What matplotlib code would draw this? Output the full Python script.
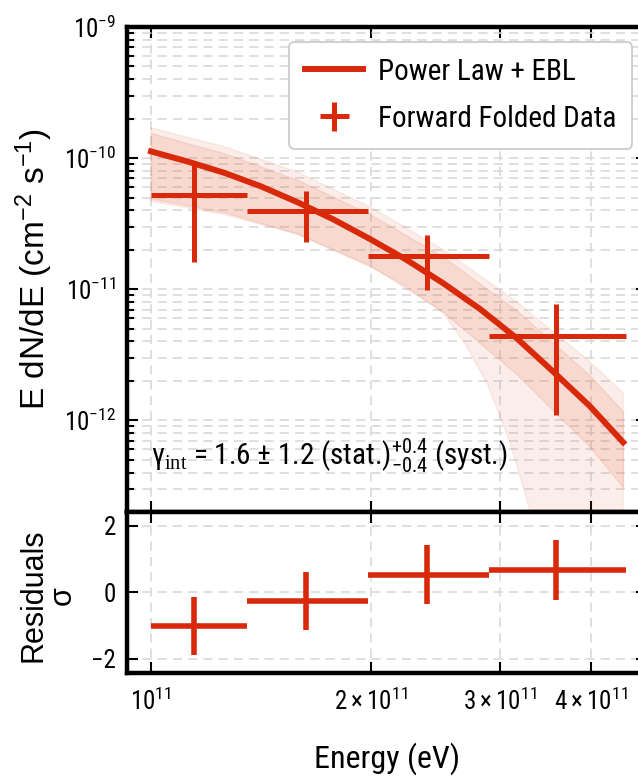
import os
import numpy as np
import matplotlib
matplotlib.use('Agg')
import matplotlib.pyplot as plt
from matplotlib import font_manager
from matplotlib.ticker import (FixedLocator, FixedFormatter, LogLocator,
                               NullLocator, NullFormatter, LogFormatterMathtext)

# narrow sans for the horizontal texts, if one is around
fm = font_manager.fontManager
names = {f.name for f in fm.ttflist}
narrow = None
for cand in ['Liberation Sans Narrow', 'Arial Narrow', 'Roboto Condensed']:
    if cand in names:
        narrow = cand
        break
if narrow is None:
    for f in fm.ttflist:
        if os.path.basename(f.fname) == 'NotoSans-Condensed.ttf':
            fm.ttflist.append(font_manager.FontEntry(
                fname=f.fname, name='Noto Sans Cond', style='normal',
                variant='normal', weight=400, stretch='normal', size='scalable'))
            narrow = 'Noto Sans Cond'
            break
if narrow is None:
    narrow = 'Liberation Sans'

plt.rcParams['font.family'] = [narrow, 'Liberation Sans', 'DejaVu Sans']
plt.rcParams['mathtext.fontset'] = 'custom'
plt.rcParams['mathtext.rm'] = 'Liberation Serif'
plt.rcParams['mathtext.it'] = 'Liberation Sans:italic'
plt.rcParams['mathtext.bf'] = 'Liberation Sans:bold'
plt.rcParams['mathtext.default'] = 'regular'

red = '#d9290b'
band_col = '#e2643e'

# forward folded data (energy bins in eV)
bin_lo = [1.0e11, 1.354e11, 1.98e11, 2.90e11]
bin_hi = [1.354e11, 1.98e11, 2.90e11, 4.46e11]
bin_ctr = [1.145e11, 1.628e11, 2.385e11, 3.58e11]
flux = [5.26e-11, 3.97e-11, 1.78e-11, 4.39e-12]
flux_err = [3.66e-11, 1.68e-11, 8.0e-12, 3.3e-12]
resid = [-1.01, -0.26, 0.53, 0.68]
resid_err = [0.88, 0.88, 0.89, 0.90]

# power law + EBL model
E_model = [1.0e11, 1.122e11, 1.259e11, 1.413e11, 1.585e11, 1.778e11, 1.995e11,
           2.239e11, 2.512e11, 2.818e11, 3.162e11, 3.548e11, 3.981e11, 4.426e11]
F_model = [1.125e-10, 9.42e-11, 7.73e-11, 6.10e-11, 4.62e-11, 3.40e-11, 2.41e-11,
           1.67e-11, 1.109e-11, 7.08e-12, 4.25e-12, 2.36e-12, 1.29e-12, 6.8e-13]

# uncertainty bands
E_band = [1.0e11, 1.259e11, 1.585e11, 1.995e11, 2.512e11, 3.162e11, 3.981e11, 4.426e11]
inner_up = [1.55e-10, 1.09e-10, 6.84e-11, 3.73e-11, 1.76e-11, 6.92e-12, 2.21e-12, 1.17e-12]
inner_lo = [4.91e-11, 3.87e-11, 2.66e-11, 1.52e-11, 6.68e-12, 2.26e-12, 6.31e-13, 3.09e-13]
outer_up = [1.70e-10, 1.225e-10, 7.85e-11, 4.24e-11, 2.0e-11, 8.04e-12, 2.82e-12, 1.62e-12]
E_outer_lo = [1.0e11, 1.259e11, 1.585e11, 1.995e11, 2.239e11, 2.512e11, 2.692e11,
              2.884e11, 3.090e11, 3.273e11, 3.548e11, 4.426e11]
outer_lo = [4.68e-11, 3.72e-11, 2.63e-11, 1.48e-11, 1.05e-11, 6.6e-12, 3.8e-12,
            1.9e-12, 7.1e-13, 2.4e-13, 5e-14, 1e-15]

x_ticks = [1e11, 2e11, 3e11, 4e11]
x_ticklabels = [r'$\mathdefault{10^{11}}$', r'$\mathdefault{2\times10^{11}}$',
                r'$\mathdefault{3\times10^{11}}$', r'$\mathdefault{4\times10^{11}}$']

fig = plt.figure(figsize=(6.38, 7.76), dpi=100)
ax = fig.add_axes([0.199, 0.3402, 0.815, 0.625])
axr = fig.add_axes([0.199, 0.1327, 0.815, 0.2075], sharex=ax)

grid_kw = dict(color='#d6d6d6', linewidth=1.1, linestyle=(0, (6, 4)))

# upper panel
ax.set_xscale('log')
ax.set_yscale('log')
ax.fill(np.concatenate([E_band, E_outer_lo[::-1]]),
        np.concatenate([outer_up, outer_lo[::-1]]),
        facecolor=band_col, alpha=0.11, edgecolor=band_col, lw=1.0, zorder=2)
ax.fill_between(E_band, inner_lo, inner_up, facecolor=band_col, alpha=0.14,
                edgecolor=band_col, lw=1.0, zorder=2)
ax.plot(E_model, F_model, color=red, lw=4.3, label='Power Law + EBL', zorder=4)
xerr = [np.subtract(bin_ctr, bin_lo), np.subtract(bin_hi, bin_ctr)]
ax.errorbar(bin_ctr, flux, xerr=xerr, yerr=flux_err, fmt='none', ecolor=red,
            elinewidth=3.6, capsize=0, label='Forward Folded Data', zorder=5)

ax.set_xlim(9.27e10, 4.77e11)
ax.set_ylim(2e-13, 1e-9)
ax.xaxis.set_major_locator(FixedLocator(x_ticks))
ax.xaxis.set_minor_locator(NullLocator())
ax.yaxis.set_major_locator(LogLocator(base=10))
ax.yaxis.set_minor_locator(LogLocator(base=10, subs=np.arange(2, 10)))
ax.yaxis.set_major_formatter(LogFormatterMathtext())
ax.yaxis.set_minor_formatter(NullFormatter())
ax.grid(True, which='both', **grid_kw)
ax.set_axisbelow(True)
ax.tick_params(which='both', direction='in', top=True, right=True,
               labelbottom=False, labelsize=18, width=1.5, pad=8)
ax.tick_params(which='major', length=8)
ax.tick_params(which='minor', length=5)
ax.set_ylabel(r'E dN/dE (cm$^{-2}$ s$^{-1}$)', fontsize=24, family='Liberation Sans')
ax.yaxis.set_label_coords(-0.138, 0.5)

leg = ax.legend(loc='upper right', fontsize=21, frameon=True, fancybox=True,
                framealpha=1, edgecolor='#cccccc', handlelength=2.0,
                handletextpad=0.5, labelspacing=0.65, borderpad=0.55)
leg.get_frame().set_linewidth(1.3)

ax.text(0.046, 0.097,
        r'$\gamma_{\mathrm{int}}$ = 1.6 ± 1.2 (stat.)$^{+0.4}_{-0.4}$ (syst.)',
        transform=ax.transAxes, fontsize=21, va='baseline', zorder=6)

# residual panel
axr.errorbar(bin_ctr, resid, xerr=xerr, yerr=resid_err, fmt='none',
             ecolor=red, elinewidth=4.0, capsize=0, zorder=5)
axr.set_ylim(-2.43, 2.42)
axr.set_yticks([-2, 0, 2])
axr.xaxis.set_major_locator(FixedLocator(x_ticks))
axr.xaxis.set_major_formatter(FixedFormatter(x_ticklabels))
axr.xaxis.set_minor_locator(NullLocator())
axr.grid(True, which='major', **grid_kw)
axr.set_axisbelow(True)
axr.tick_params(which='both', direction='in', top=True, right=True,
                labelsize=18, width=1.5, length=8, pad=8)
axr.tick_params(axis='x', pad=11)
# "Residuals" with the sigma unit as a second column beside it
axr.set_ylabel('Residuals', fontsize=22, family='Liberation Sans')
axr.yaxis.set_label_coords(-0.15, 0.48)
axr.text(-0.094, 0.48, 'σ', transform=axr.transAxes, rotation=90,
         fontsize=22, family='Liberation Sans', ha='right', va='center')
axr.set_xlabel('Energy (eV)', fontsize=23)
axr.xaxis.set_label_coords(0.5, -0.43)

for a in (ax, axr):
    for s in a.spines.values():
        s.set_linewidth(3.2)

fig.savefig('out.png', dpi=100)
